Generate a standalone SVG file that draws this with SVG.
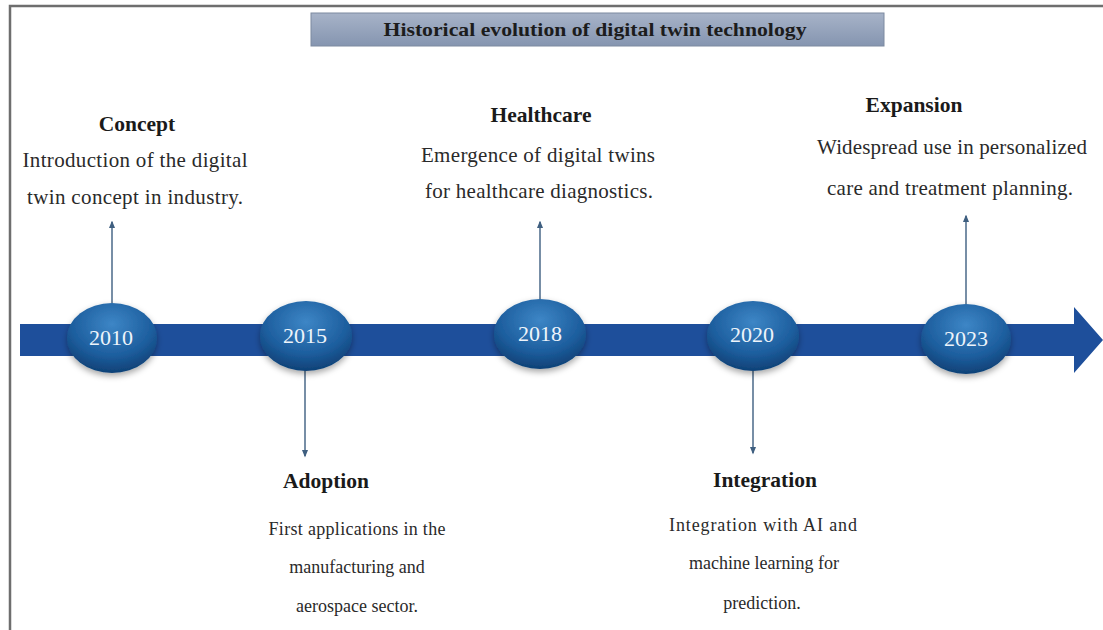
<svg xmlns="http://www.w3.org/2000/svg" width="1103" height="630" viewBox="0 0 1103 630">
  <defs>
    <linearGradient id="titleFill" x1="0" y1="0" x2="0" y2="1">
      <stop offset="0" stop-color="#a7b3c8"/>
      <stop offset="1" stop-color="#8595b0"/>
    </linearGradient>
    <radialGradient id="bubble" cx="0.5" cy="0.3" r="0.75">
      <stop offset="0" stop-color="#3d86c6"/>
      <stop offset="0.6" stop-color="#1d5e9e"/>
      <stop offset="1" stop-color="#0c3b6e"/>
    </radialGradient>
    <filter id="shadow" x="-20%" y="-20%" width="140%" height="150%">
      <feDropShadow dx="0" dy="3" stdDeviation="3" flood-color="#000" flood-opacity="0.35"/>
    </filter>
    <marker id="tip" viewBox="0 0 10 10" refX="8" refY="5" markerWidth="5" markerHeight="5" orient="auto-start-reverse">
      <path d="M0,1 L10,5 L0,9 Z" fill="#3f5f80"/>
    </marker>
    <style>
      .frame { stroke: #6e6e6e; stroke-width: 2.5; fill: none; }
      .title { font-family: "Liberation Serif", "Times New Roman", serif; font-weight: bold; font-size: 19px; fill: #1c1c1c; }
      .year { font-family: "Liberation Serif", "Times New Roman", serif; font-size: 22px; fill: #eef4fb; text-anchor: middle; }
      .head { font-family: "Liberation Serif", "Times New Roman", serif; font-weight: bold; font-size: 21.5px; fill: #1a1a1a; text-anchor: middle; }
      .body { font-family: "Liberation Serif", "Times New Roman", serif; font-size: 18px; fill: #2a2a2a; text-anchor: middle; }
      .upper { font-size: 21px; }
      .link { stroke: #4a6888; stroke-width: 1.5; fill: none; marker-end: url(#tip); }
    </style>
  </defs>

  <rect width="1103" height="630" fill="#ffffff"/>

  <!-- page frame -->
  <path class="frame" d="M10,630 V6 H1103"/>

  <!-- title banner -->
  <g id="title">
    <rect x="311" y="13" width="573" height="33" fill="url(#titleFill)" stroke="#7d8aa0" stroke-width="1"/>
    <text class="title" x="595" y="36" text-anchor="middle" textLength="423" lengthAdjust="spacingAndGlyphs">Historical evolution of digital twin technology</text>
  </g>

  <!-- timeline arrow -->
  <g id="timeline">
    <path d="M20,324 H1074 V307 L1103,340 L1074,373 V356 H20 Z" fill="#1e4f9b"/>
  </g>

  <!-- connectors from year markers to their descriptions -->
  <g id="connectors">
    <line class="link" x1="112" y1="303" x2="112" y2="222"/>
    <line class="link" x1="305" y1="370" x2="305" y2="456"/>
    <line class="link" x1="540" y1="299" x2="540" y2="222"/>
    <line class="link" x1="753" y1="371" x2="753" y2="453"/>
    <line class="link" x1="966" y1="304" x2="966" y2="216"/>
  </g>

  <!-- year markers -->
  <g id="y2010">
    <ellipse cx="112" cy="338" rx="45" ry="35" fill="url(#bubble)" filter="url(#shadow)"/>
    <text class="year" x="111" y="345">2010</text>
  </g>
  <g id="y2015">
    <ellipse cx="306" cy="336" rx="46" ry="35" fill="url(#bubble)" filter="url(#shadow)"/>
    <text class="year" x="305" y="343">2015</text>
  </g>
  <g id="y2018">
    <ellipse cx="540" cy="334" rx="46" ry="35" fill="url(#bubble)" filter="url(#shadow)"/>
    <text class="year" x="540" y="341">2018</text>
  </g>
  <g id="y2020">
    <ellipse cx="753" cy="336" rx="46" ry="35" fill="url(#bubble)" filter="url(#shadow)"/>
    <text class="year" x="752" y="342">2020</text>
  </g>
  <g id="y2023">
    <ellipse cx="966" cy="339" rx="45" ry="35" fill="url(#bubble)" filter="url(#shadow)"/>
    <text class="year" x="966" y="346">2023</text>
  </g>

  <!-- milestone descriptions -->
  <g id="concept">
    <text class="head" x="137" y="131">Concept</text>
    <text class="body upper" x="135" y="167" textLength="225">Introduction of the digital</text>
    <text class="body upper" x="135" y="204" textLength="216">twin concept in industry.</text>
  </g>
  <g id="adoption">
    <text class="head" x="326" y="488">Adoption</text>
    <text class="body" x="357" y="535" textLength="177">First applications in the</text>
    <text class="body" x="357" y="573">manufacturing and</text>
    <text class="body" x="357" y="612">aerospace sector.</text>
  </g>
  <g id="healthcare">
    <text class="head" x="541" y="122">Healthcare</text>
    <text class="body upper" x="538" y="162" textLength="234">Emergence of digital twins</text>
    <text class="body upper" x="539" y="198" textLength="228">for healthcare diagnostics.</text>
  </g>
  <g id="integration">
    <text class="head" x="765" y="487">Integration</text>
    <text class="body" x="763" y="531" textLength="188">Integration with AI and</text>
    <text class="body" x="764" y="569">machine learning for</text>
    <text class="body" x="762" y="609">prediction.</text>
  </g>
  <g id="expansion">
    <text class="head" x="914" y="112">Expansion</text>
    <text class="body upper" x="952" y="154" textLength="270">Widespread use in personalized</text>
    <text class="body upper" x="950" y="195" textLength="246">care and treatment planning.</text>
  </g>
</svg>
